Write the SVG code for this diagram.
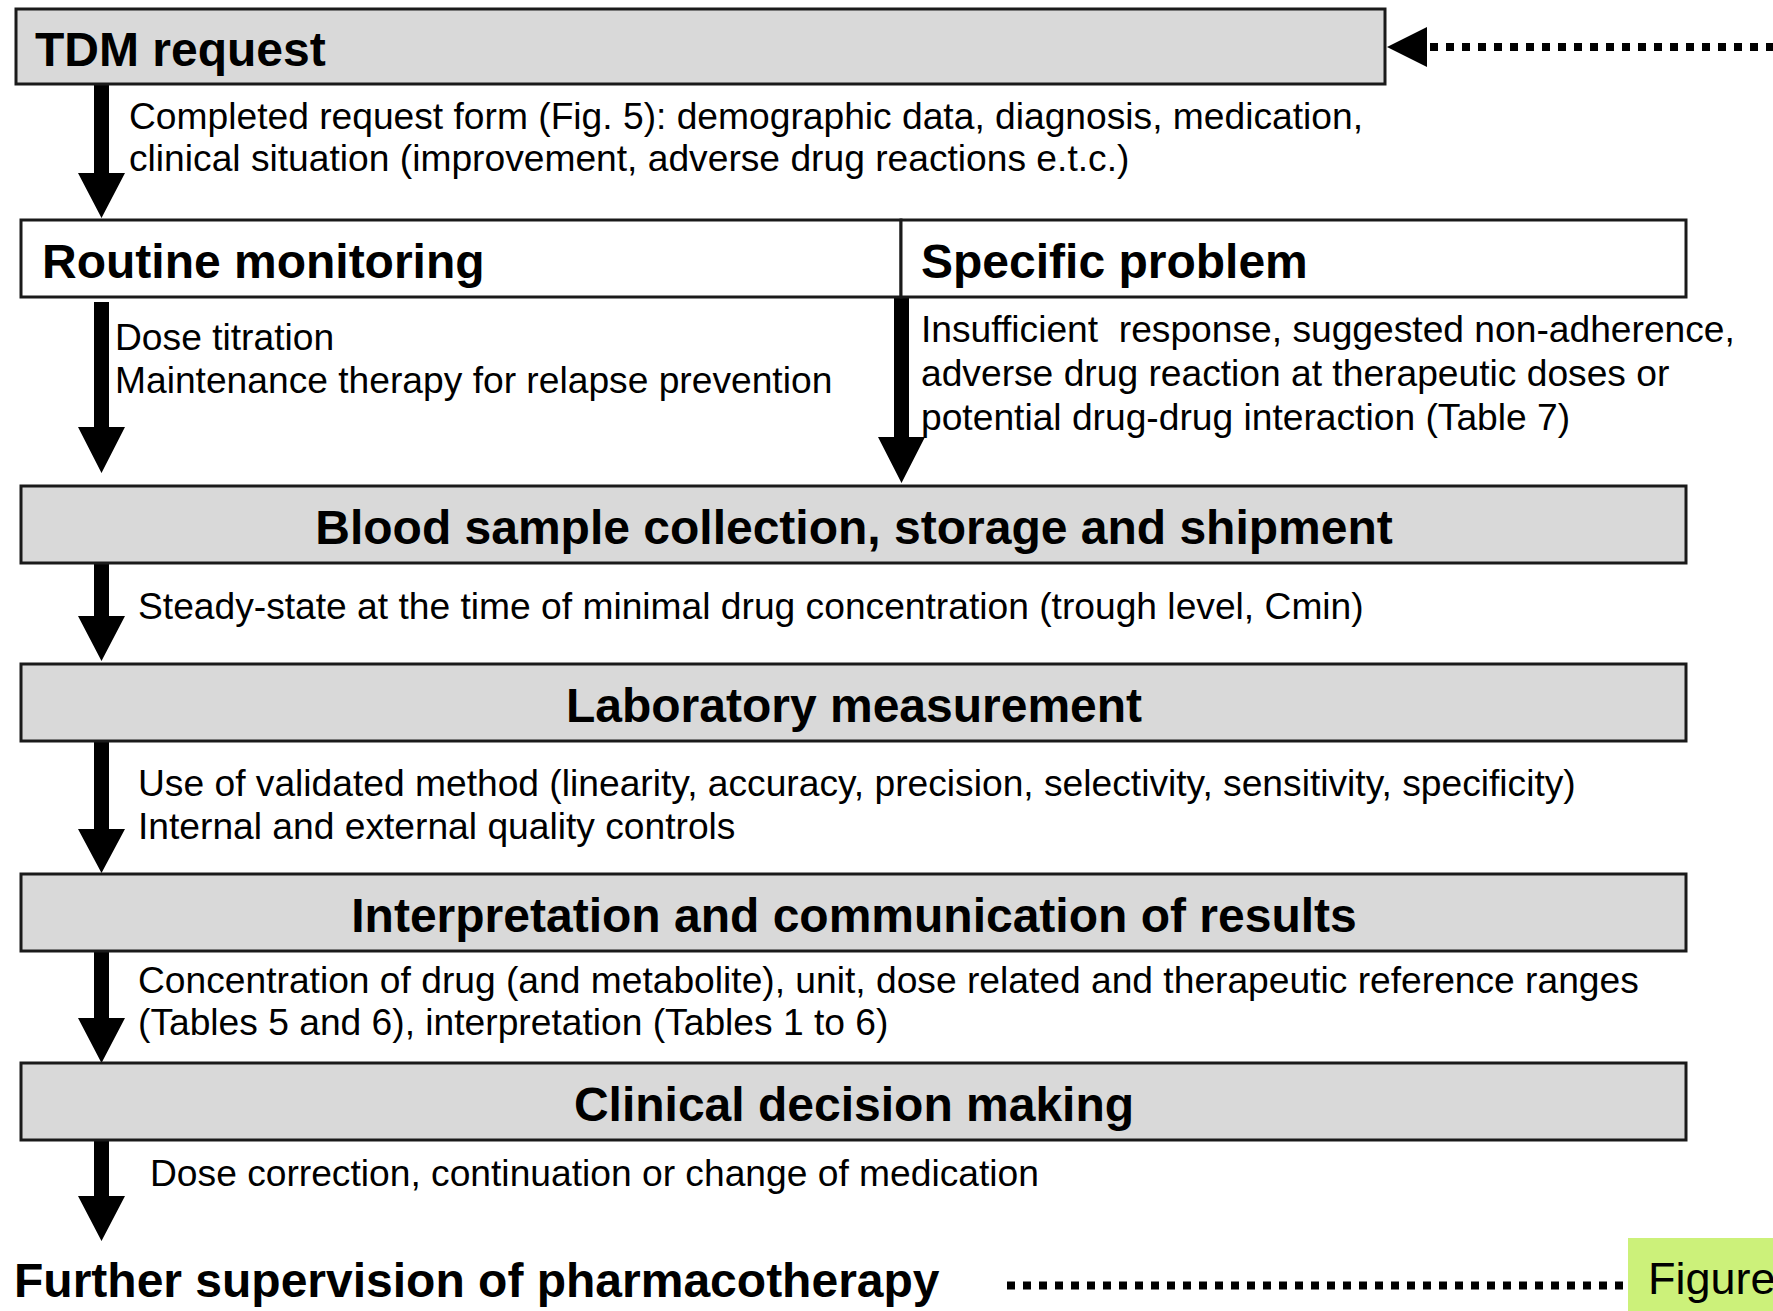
<svg xmlns="http://www.w3.org/2000/svg" width="1773" height="1311" viewBox="0 0 1773 1311">
  <style>
    .box { stroke: #1a1a1a; stroke-width: 3; }
    .grey { fill: #d9d9d9; }
    .white { fill: #ffffff; }
    .head { font-family: "Liberation Sans", Arial, sans-serif; font-weight: bold; font-size: 48px; fill: #000; }
    .note { font-family: "Liberation Sans", Arial, sans-serif; font-size: 37.2px; fill: #000; }
    .arrow { fill: #000; }
    .dots { stroke: #000; stroke-width: 8; stroke-dasharray: 8 8; fill: none; }
  </style>

  <rect width="1773" height="1311" fill="#ffffff"/>

  <!-- flow connectors: thick block arrows and dotted feedback lines -->
  <g id="connectors">
    <!-- TDM request -> routine / specific -->
    <path class="arrow" d="M94,84 H109 V173 H125 L101.5,218 L78,173 H94 Z"/>
    <!-- routine monitoring -> blood sample -->
    <path class="arrow" d="M94,302 H109 V427 H125 L101.5,473 L78,427 H94 Z"/>
    <!-- specific problem -> blood sample -->
    <path class="arrow" d="M894,297 H909 V437 H925 L901.5,483 L878,437 H894 Z"/>
    <!-- blood sample -> laboratory -->
    <path class="arrow" d="M94,562 H109 V616 H125 L101.5,661 L78,616 H94 Z"/>
    <!-- laboratory -> interpretation -->
    <path class="arrow" d="M94,741 H109 V829 H125 L101.5,873 L78,829 H94 Z"/>
    <!-- interpretation -> clinical decision -->
    <path class="arrow" d="M94,951 H109 V1018 H125 L101.5,1063 L78,1018 H94 Z"/>
    <!-- clinical decision -> further supervision -->
    <path class="arrow" d="M94,1139 H109 V1196 H125 L101.5,1241 L78,1196 H94 Z"/>

    <!-- dotted return into TDM request -->
    <line class="dots" x1="1430" y1="47" x2="1773" y2="47"/>
    <path class="arrow" d="M1387,47 L1427,27 V67 Z"/>
    <!-- dotted line from further supervision -->
    <line class="dots" x1="1007" y1="1285.5" x2="1623" y2="1285.5"/>
  </g>

  <g id="tdm-request">
    <rect class="box grey" x="16" y="9" width="1369" height="75"/>
    <text class="head" x="35" y="66">TDM request</text>
  </g>
  <g id="request-note">
    <text class="note" x="129" y="129">Completed request form (Fig. 5): demographic data, diagnosis, medication,</text>
    <text class="note" x="129" y="171">clinical situation (improvement, adverse drug reactions e.t.c.)</text>
  </g>

  <g id="routine-monitoring">
    <rect class="box white" x="21" y="220" width="880" height="77"/>
    <text class="head" x="42" y="278">Routine monitoring</text>
  </g>
  <g id="routine-note">
    <text class="note" x="115" y="350">Dose titration</text>
    <text class="note" x="115" y="393">Maintenance therapy for relapse prevention</text>
  </g>

  <g id="specific-problem">
    <rect class="box white" x="901" y="220" width="785" height="77"/>
    <text class="head" x="921" y="278">Specific problem</text>
  </g>
  <g id="specific-note">
    <text class="note" x="921" y="342" xml:space="preserve">Insufficient  response, suggested non-adherence,</text>
    <text class="note" x="921" y="386">adverse drug reaction at therapeutic doses or</text>
    <text class="note" x="921" y="430">potential drug-drug interaction (Table 7)</text>
  </g>

  <g id="blood-sample">
    <rect class="box grey" x="21" y="486" width="1665" height="77"/>
    <text class="head" x="854" y="544" text-anchor="middle">Blood sample collection, storage and shipment</text>
  </g>
  <g id="blood-note">
    <text class="note" x="138" y="619">Steady-state at the time of minimal drug concentration (trough level, Cmin)</text>
  </g>

  <g id="laboratory">
    <rect class="box grey" x="21" y="664" width="1665" height="77"/>
    <text class="head" x="854" y="722" text-anchor="middle">Laboratory measurement</text>
  </g>
  <g id="laboratory-note">
    <text class="note" x="138" y="796">Use of validated method (linearity, accuracy, precision, selectivity, sensitivity, specificity)</text>
    <text class="note" x="138" y="839">Internal and external quality controls</text>
  </g>

  <g id="interpretation">
    <rect class="box grey" x="21" y="874" width="1665" height="77"/>
    <text class="head" x="854" y="932" text-anchor="middle">Interpretation and communication of results</text>
  </g>
  <g id="interpretation-note">
    <text class="note" x="138" y="993">Concentration of drug (and metabolite), unit, dose related and therapeutic reference ranges</text>
    <text class="note" x="138" y="1035">(Tables 5 and 6), interpretation (Tables 1 to 6)</text>
  </g>

  <g id="clinical-decision">
    <rect class="box grey" x="21" y="1063" width="1665" height="77"/>
    <text class="head" x="854" y="1121" text-anchor="middle">Clinical decision making</text>
  </g>
  <g id="clinical-note">
    <text class="note" x="150" y="1186">Dose correction, continuation or change of medication</text>
  </g>

  <g id="further-supervision">
    <text class="head" x="14" y="1297">Further supervision of pharmacotherapy</text>
  </g>

  <g id="figure-tag">
    <rect x="1628" y="1238" width="145" height="73" fill="#ccf17a"/>
    <text x="1648" y="1294" font-family="'Liberation Sans', Arial, sans-serif" font-size="45" fill="#000">Figure</text>
  </g>
</svg>
